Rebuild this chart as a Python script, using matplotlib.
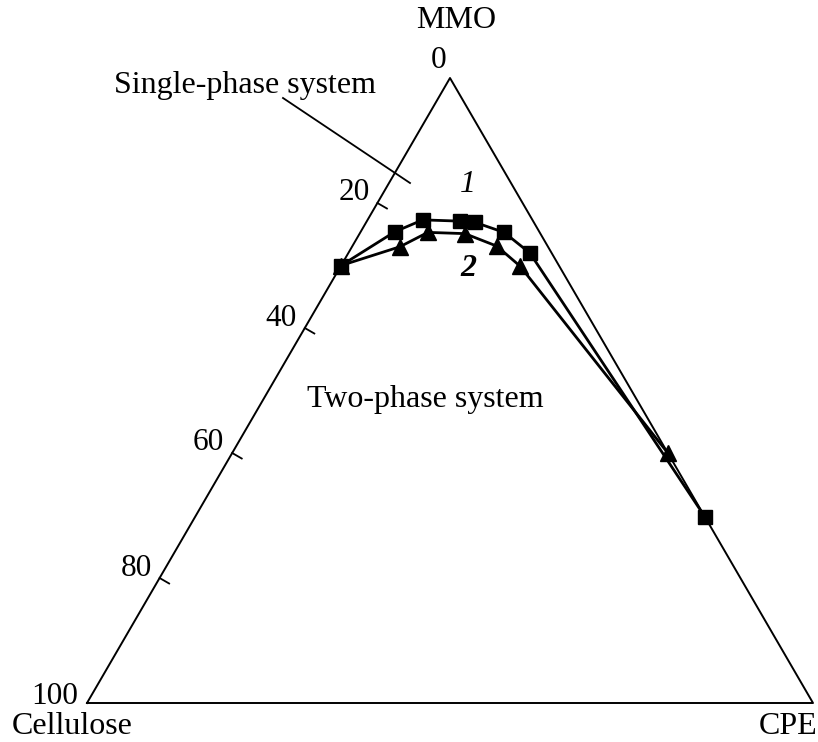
import numpy as np
import matplotlib
matplotlib.use('Agg')
import matplotlib.pyplot as plt
from matplotlib.lines import Line2D

# composition of the binodal points, % (cellulose, CPE); MMO = 100 - rest
celulosa_1 = [30.0, 19.9, 15.1, 10.1, 8.1, 4.9, 3.0, 0.0]
cpe_1 = [0.0, 4.7, 7.6, 12.8, 15.0, 19.8, 25.0, 70.2]
celulosa_2 = [30.0, 20.4, 15.4, 10.4, 7.0, 5.4, 0.0]
cpe_2 = [0.0, 6.6, 9.3, 14.5, 19.9, 24.7, 60.0]
marcas = [20, 40, 60, 80]

W, H = 818, 742
plt.rcParams['font.family'] = ['Liberation Serif', 'DejaVu Serif']
fig = plt.figure(figsize=(W / 100, H / 100), dpi=100)
fig.patch.set_facecolor('white')

# ejes: triangulo con vertices B=(0,0), C=(1,0), A=(0.5,1)
x0, x1, ytop, ybot = 87, 813, 78, 703
ax = fig.add_axes([x0 / W, 1 - ybot / H, (x1 - x0) / W, (ybot - ytop) / H])
ax.set_xlim(0, 1)
ax.set_ylim(0, 1)
ax.axis('off')


def ternaria(cel, cpe):
    cel = np.asarray(cel) / 100.0
    cpe = np.asarray(cpe) / 100.0
    mmo = 1 - cel - cpe
    return cpe + mmo / 2, mmo


def px(x, y):
    return x / W, 1 - y / H


# contorno del triangulo
ax.plot([0, 1, 0.5, 0], [0, 0, 1, 0], color='black', lw=1.4, clip_on=False)

# marcas en el lado izquierdo (0 en el vertice MMO, 100 en celulosa)
sx, sy = (x1 - x0), (ybot - ytop)
for m in marcas:
    tx, ty = ternaria(m, 0)
    dx, dy = 0.866 * 11 / sx, -0.5 * 11 / sy
    ax.plot([tx, tx + dx], [ty, ty + dy], color='black', lw=1.3, clip_on=False)
    ax.annotate(str(m), (tx, ty), xytext=(-8, 10), textcoords='offset pixels',
                ha='right', va='center', fontsize=22.5)

# curvas
xa, ya = ternaria(celulosa_1, cpe_1)
xb, yb = ternaria(celulosa_2, cpe_2)
ax.plot(xa, ya, color='black', lw=2, marker='s', ms=10, clip_on=False)
ax.plot(xb, yb, color='black', lw=2, marker='^', ms=11, clip_on=False)

# textos
fs = 23
fig.text(*px(456, 21), 'MMO', ha='center', va='center', fontsize=fs)
fig.text(*px(439, 60), '0', ha='center', va='center', fontsize=22.5)
fig.text(*px(78, 696), '100', ha='right', va='center', fontsize=22.5)
fig.text(*px(72, 727), 'Cellulose', ha='center', va='center', fontsize=fs)
fig.text(*px(788, 727), 'CPE', ha='center', va='center', fontsize=fs)
fig.text(*px(245, 85), 'Single-phase system', ha='center', va='center', fontsize=fs)
fig.text(*px(425, 400), 'Two-phase system', ha='center', va='center', fontsize=fs)
fig.text(*px(468, 185), '1', ha='center', va='center', fontsize=fs, style='italic')
fig.text(*px(468, 268), '2', ha='center', va='center', fontsize=fs, style='italic',
         weight='bold')
p0, p1 = px(283, 98), px(410, 183)
fig.add_artist(Line2D([p0[0], p1[0]], [p0[1], p1[1]], color='black', lw=1.3,
                      transform=fig.transFigure))

plt.savefig('out.png', dpi=100)
